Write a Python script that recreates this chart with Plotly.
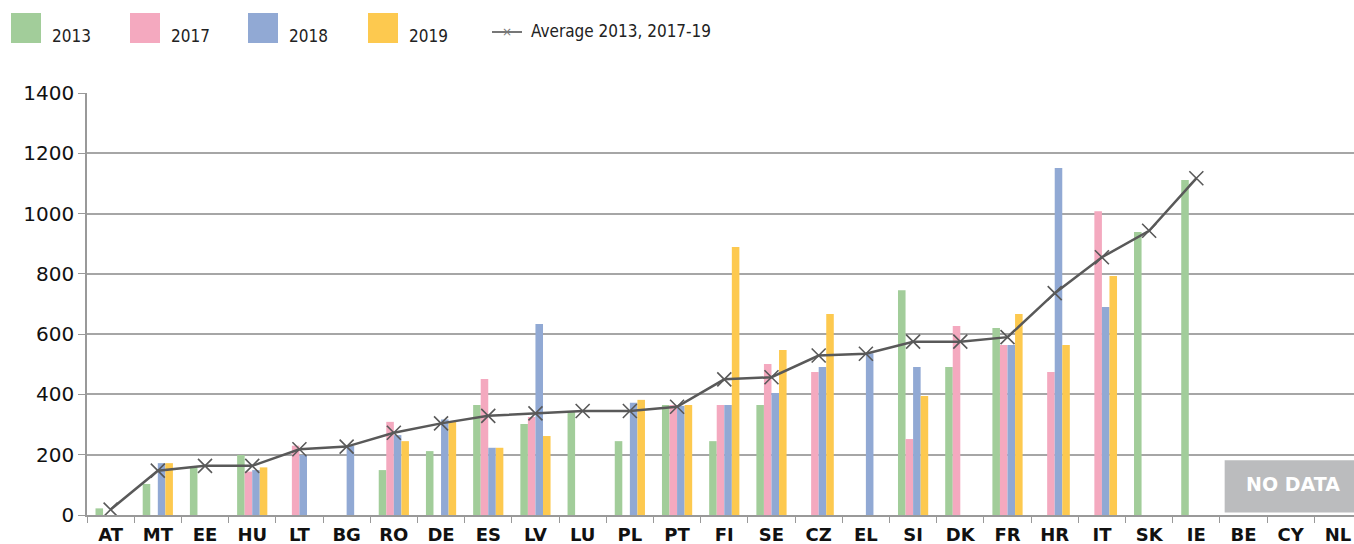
import plotly.graph_objects as go

countries = ["AT", "MT", "EE", "HU", "LT", "BG", "RO", "DE", "ES", "LV", "LU", "PL", "PT", "FI",
             "SE", "CZ", "EL", "SI", "DK", "FR", "HR", "IT", "SK", "IE", "BE", "CY", "NL"]

v2013 = [22, 103, 158, 199, None, None, 149, 212, 365, 302, 342, 245, 365, 245,
         365, None, None, 746, 491, 620, None, None, 939, 1111, None, None, None]
v2017 = [None, None, None, 144, 230, None, 309, None, 451, 325, None, None, 365, 365,
         501, 474, None, 252, 627, 564, 474, 1008, None, None, None, None, None]
v2018 = [None, 172, None, 149, 199, 229, 265, 317, 223, 634, None, 372, 362, 365,
         405, 491, 537, 491, None, 564, 1151, 690, None, None, None, None, None]
v2019 = [None, 172, None, 158, None, None, 245, 310, 223, 262, None, 382, 365, 889,
         547, 667, None, 395, None, 667, 564, 793, None, None, None, None, None]
average = [18, 147, 163, 163, 218, 227, 273, 304, 329, 337, 345, 345, 359, 450,
           457, 529, 535, 575, 575, 590, 736, 855, 943, 1117, None, None, None]

series_names = ["2013", "2017", "2018", "2019"]
series_values = [v2013, v2017, v2018, v2019]
colors = ["#a2cd9a", "#f4a9bf", "#91a9d4", "#fdc94f"]
line_name = "Average 2013, 2017-19"
line_color = "#595959"

W, H = 1354, 544
L, R, T, B = 87, 0, 93, 29
plot_w = W - L - R
plot_h = H - T - B

def px(x):
    return (x - L) / plot_w

def py(y):
    return (H - B - y) / plot_h

fig = go.Figure()
for name, vals, c in zip(series_names, series_values, colors):
    fig.add_trace(go.Bar(x=countries, y=vals, name=name, marker=dict(color=c, line=dict(width=0)),
                         showlegend=False))

fig.add_trace(go.Scatter(x=countries, y=average, name=line_name, mode="lines+markers",
                         line=dict(color=line_color, width=2.5),
                         marker=dict(symbol="x-thin", size=14, line=dict(width=1.6, color=line_color)),
                         showlegend=False))

shapes = []
annotations = []
font_leg = dict(family="DejaVu Sans Condensed, DejaVu Sans", size=17, color="#222222")
leg_x = [11, 130, 248, 368]
for x0, name, c in zip(leg_x, series_names, colors):
    shapes.append(dict(type="rect", xref="paper", yref="paper",
                       x0=px(x0), x1=px(x0 + 30), y0=py(43), y1=py(13),
                       fillcolor=c, line=dict(width=0)))
    annotations.append(dict(xref="paper", yref="paper", x=px(x0 + 39), y=py(36),
                            text=name, showarrow=False, xanchor="left", yanchor="middle",
                            font=font_leg))
shapes.append(dict(type="line", xref="paper", yref="paper", x0=px(492), x1=px(522),
                   y0=py(32), y1=py(32), line=dict(color="#777777", width=2)))
annotations.append(dict(xref="paper", yref="paper", x=px(507), y=py(32), text="×",
                        showarrow=False, font=dict(size=12, color="#777777"),
                        xanchor="center", yanchor="middle"))
annotations.append(dict(xref="paper", yref="paper", x=px(529), y=py(31), text=line_name,
                        showarrow=False, xanchor="left", yanchor="middle", font=font_leg))

# NO DATA box
shapes.append(dict(type="rect", xref="x", yref="y", x0=23.6, x1=26.6, y0=8, y1=182,
                   fillcolor="#bbbcbe", line=dict(width=0), layer="above"))
annotations.append(dict(xref="x", yref="y", x=25.04, y=102, text="<b>NO DATA</b>", showarrow=False,
                        font=dict(family="DejaVu Sans", size=19, color="white")))

fig.update_layout(
    width=W, height=H,
    margin=dict(l=L, r=R, t=T, b=B, pad=0),
    paper_bgcolor="white", plot_bgcolor="white",
    barmode="group", bargap=0.36, bargroupgap=0,
    shapes=shapes, annotations=annotations,
    showlegend=False,
    font=dict(family="DejaVu Sans", color="#111111"),
)
fig.update_xaxes(type="category", range=[-0.5, 26.34], showline=True, linecolor="#999999",
                 linewidth=1.5, ticks="outside", tickson="boundaries", ticklen=6,
                 tickcolor="#999999", showgrid=False, ticklabelstandoff=3,
                 tickprefix="<b>", ticksuffix="</b>",
                 tickfont=dict(family="DejaVu Sans", size=18, color="#111111"))
fig.update_yaxes(range=[0, 1400], tickvals=[0, 200, 400, 600, 800, 1000, 1200, 1400],
                 showline=True, linecolor="#999999", linewidth=1.5, ticks="outside",
                 ticklen=7, tickcolor="#999999", showgrid=True, gridcolor="#a6a6a6",
                 gridwidth=1.5, zeroline=False,
                 tickfont=dict(family="DejaVu Sans", size=20, color="#111111"))

fig.write_html("out.html", config={"displayModeBar": False},
               post_script="document.body.style.margin='0';document.body.style.overflow='hidden';")
